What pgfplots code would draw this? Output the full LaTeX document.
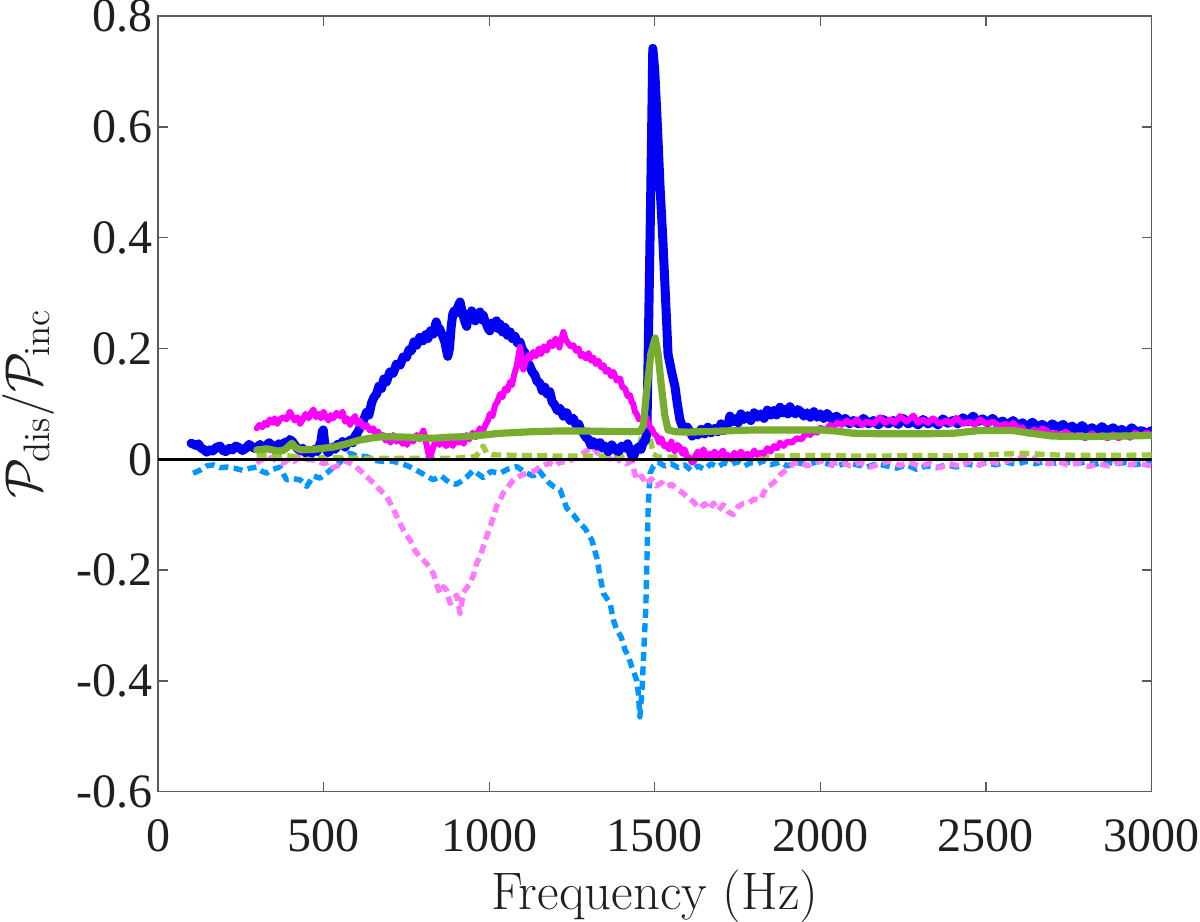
\documentclass[border=0pt]{standalone}
\usepackage{fontspec}
\newfontfamily\timesfont{Liberation Serif}
\usepackage{pgfplots}
\pgfplotsset{compat=1.18}
\definecolor{cblue}{RGB}{0,0,245}
\definecolor{cmag}{RGB}{255,0,255}
\definecolor{cgreen}{RGB}{119,172,48}
\definecolor{clblue}{RGB}{0,150,255}
\definecolor{cpink}{RGB}{255,120,255}
\definecolor{clgreen}{RGB}{160,200,60}
\definecolor{axgray}{RGB}{90,90,90}
\begin{document}
\begin{tikzpicture}
\begin{axis}[
  scale only axis, width=331.2pt, height=258.5pt,
  xmin=0, xmax=3000, ymin=-0.6, ymax=0.8,
  axis line style={axgray, line width=0.45pt},
  every tick/.style={axgray, line width=0.45pt},
  tick align=inside, tick pos=both, major tick length=3.3pt,
  xtick={0,500,1000,1500,2000,2500,3000},
  xticklabels={0,500,1000,1500,2000,2500,3000},
  ytick={-0.6,-0.4,-0.2,0,0.2,0.4,0.6,0.8},
  yticklabels={-0.6,-0.4,-0.2,0,0.2,0.4,0.6,0.8},
  ticklabel style={font=\timesfont\fontsize{16}{18}\selectfont, text=black!88},
  xticklabel style={anchor=base, yshift=-20pt, inner sep=0pt},
  yticklabel style={anchor=east, xshift=-1.8pt, inner sep=0pt},
  xlabel={Frequency (Hz)},
  ylabel={$\mathcal{P}_{\rm dis}/\mathcal{P}_{\rm inc}$},
  label style={font=\fontsize{17.6}{20}\selectfont, text=black!88},
  xlabel style={at={(axis description cs:0.5,0)}, anchor=base, yshift=-39.4pt, inner sep=0pt},
  ylabel style={at={(axis description cs:0,0.5)}, anchor=center, yshift=43pt, inner sep=0pt},
  every axis plot/.append style={line join=round, line cap=round, mark=none},
]
% light blue dashed
\addplot[clblue, line width=1.8pt, dash pattern=on 3pt off 1.8pt, line cap=butt] coordinates {
(106,-0.025)(126,-0.020)(147,-0.012)(167,-0.010)(187,-0.015)(207,-0.014)(230,-0.016)(257,-0.020)(278,-0.016)(298,-0.014)
(315,-0.022)(328,-0.025)(348,-0.018)(368,-0.014)(388,-0.037)(409,-0.035)(429,-0.037)(449,-0.049)(469,-0.030)(489,-0.034)
(509,-0.025)(529,-0.015)(550,-0.005)(565,0.005)(580,0.011)(600,0.006)(630,0.005)(655,-0.002)(680,-0.004)(705,-0.003)
(731,-0.007)(755,-0.012)(781,-0.020)(805,-0.028)(831,-0.037)(855,-0.030)(882,-0.043)(900,-0.045)(912,-0.041)(932,-0.032)
(952,-0.020)(970,-0.028)(982,-0.033)(1005,-0.022)(1033,-0.025)(1055,-0.018)(1083,-0.013)(1100,-0.020)(1113,-0.025)(1133,-0.030)
(1150,-0.020)(1163,-0.030)(1180,-0.042)(1194,-0.049)(1214,-0.055)(1234,-0.088)(1254,-0.100)(1274,-0.116)(1290,-0.125)(1310,-0.146)
(1325,-0.178)(1335,-0.212)(1345,-0.242)(1365,-0.260)(1375,-0.290)(1385,-0.308)(1398,-0.320)(1410,-0.344)(1420,-0.355)(1430,-0.374)
(1445,-0.398)(1450,-0.420)(1455,-0.465)(1462,-0.410)(1468,-0.330)(1473,-0.266)(1480,-0.086)(1486,-0.025)(1496,-0.012)(1510,-0.005)
(1530,-0.012)(1550,-0.008)(1570,-0.015)(1590,-0.010)(1610,-0.020)(1630,-0.012)(1650,-0.018)(1670,-0.008)(1690,-0.014)(1710,-0.006)
(1730,-0.010)(1750,-0.004)(1770,-0.012)(1790,-0.006)(1810,-0.008)(1830,-0.002)(1850,-0.010)(1878,-0.005)(1900,-0.012)(1930,-0.006)
(1960,-0.010)(1990,-0.004)(2020,-0.008)(2050,-0.012)(2080,-0.006)(2110,-0.010)(2140,-0.014)(2170,-0.008)(2200,-0.012)(2230,-0.016)
(2260,-0.010)(2290,-0.018)(2320,-0.012)(2350,-0.015)(2380,-0.010)(2410,-0.014)(2440,-0.008)(2470,-0.012)(2500,-0.006)(2530,-0.010)
(2560,-0.005)(2590,-0.009)(2620,-0.004)(2650,-0.008)(2680,-0.003)(2710,-0.007)(2740,-0.004)(2770,-0.008)(2800,-0.005)(2830,-0.009)
(2860,-0.004)(2890,-0.008)(2920,-0.006)(2950,-0.010)(2980,-0.006)(3000,-0.008)
};
% pink dashed
\addplot[cpink, line width=1.8pt, dash pattern=on 3pt off 1.8pt, line cap=butt] coordinates {
(298,-0.007)(313,0.000)(328,-0.002)(345,0.004)(360,-0.005)(378,-0.007)(395,0.000)(410,-0.004)(429,0.005)(450,0.000)
(479,-0.002)(500,-0.008)(515,-0.005)(529,-0.015)(550,-0.010)(565,-0.003)(580,-0.007)(595,-0.012)(610,-0.020)(625,-0.028)
(640,-0.037)(655,-0.045)(670,-0.055)(690,-0.067)(711,-0.090)(726,-0.110)(741,-0.128)(761,-0.146)(776,-0.165)(791,-0.176)
(811,-0.188)(831,-0.206)(841,-0.225)(851,-0.242)(862,-0.230)(871,-0.236)(882,-0.260)(892,-0.254)(902,-0.245)(912,-0.278)
(922,-0.240)(932,-0.232)(942,-0.224)(952,-0.210)(962,-0.188)(972,-0.175)(982,-0.158)(992,-0.140)(1002,-0.123)(1012,-0.105)
(1022,-0.085)(1032,-0.075)(1042,-0.061)(1057,-0.050)(1073,-0.037)(1093,-0.030)(1113,-0.025)(1133,-0.022)(1150,-0.015)(1168,-0.010)
(1184,-0.007)(1200,-0.012)(1215,-0.004)(1234,-0.007)(1250,0.000)(1268,0.005)(1284,0.011)(1300,0.018)(1314,0.023)(1325,0.012)
(1340,0.008)(1355,0.003)(1370,0.000)(1385,-0.005)(1400,0.004)(1415,-0.008)(1430,-0.003)(1445,-0.037)(1460,-0.030)(1475,-0.045)
(1490,-0.035)(1505,-0.048)(1520,-0.042)(1535,-0.050)(1550,-0.045)(1570,-0.055)(1586,-0.061)(1600,-0.070)(1616,-0.076)(1628,-0.085)
(1637,-0.088)(1650,-0.080)(1665,-0.090)(1677,-0.079)(1692,-0.092)(1707,-0.082)(1722,-0.095)(1737,-0.100)(1752,-0.085)(1767,-0.080)
(1785,-0.078)(1800,-0.072)(1818,-0.073)(1838,-0.050)(1853,-0.045)(1868,-0.037)(1883,-0.025)(1898,-0.019)(1918,-0.008)(1940,-0.004)
(1960,-0.012)(1980,-0.006)(2000,-0.002)(2030,-0.010)(2060,-0.004)(2090,-0.012)(2120,-0.006)(2150,-0.014)(2180,-0.008)(2210,-0.003)
(2240,-0.011)(2270,-0.005)(2300,-0.013)(2330,-0.007)(2360,-0.015)(2390,-0.008)(2420,-0.012)(2450,-0.004)(2480,-0.010)(2510,-0.003)
(2540,-0.008)(2570,-0.002)(2600,0.002)(2633,0.005)(2660,-0.003)(2690,-0.008)(2720,-0.004)(2750,-0.011)(2780,-0.006)(2810,-0.013)
(2840,-0.008)(2870,-0.012)(2900,-0.005)(2930,-0.010)(2960,-0.007)(3000,-0.012)
};
% light green dashed
\addplot[clgreen, line width=1.8pt, dash pattern=on 3.3pt off 1.8pt, line cap=butt] coordinates {
(298,0.008)(350,0.007)(400,0.006)(429,0.004)(500,0.003)(600,0.002)(700,0.002)(800,0.002)(900,0.002)(960,0.005)
(975,0.018)(982,0.024)(992,0.012)(1010,0.008)(1100,0.007)(1200,0.006)(1300,0.006)(1400,0.006)(1440,0.008)(1455,0.030)
(1470,0.060)(1478,0.070)(1486,0.040)(1495,0.010)(1510,0.004)(1600,0.004)(1700,0.005)(1800,0.005)(1900,0.006)(2000,0.007)
(2100,0.006)(2200,0.006)(2300,0.007)(2400,0.006)(2500,0.008)(2612,0.011)(2700,0.008)(2800,0.007)(2900,0.007)(3000,0.008)
};
% blue solid
\addplot[cblue, line width=3pt] coordinates {
(100,0.029)(108,0.027)(115,0.025)(122,0.028)(130,0.020)(138,0.018)(147,0.013)(156,0.017)(165,0.015)(175,0.021)
(187,0.024)(196,0.016)(205,0.014)(215,0.020)(225,0.017)(235,0.024)(245,0.021)(255,0.016)(265,0.020)(275,0.027)
(285,0.022)(296,0.019)(308,0.027)(316,0.020)(325,0.023)(335,0.030)(345,0.025)(355,0.021)(365,0.028)(374,0.024)
(383,0.031)(390,0.026)(398,0.036)(406,0.032)(415,0.024)(422,0.019)(429,0.016)(437,0.020)(445,0.012)(455,0.016)
(465,0.011)(472,0.018)(480,0.014)(487,0.024)(492,0.032)(496,0.050)(499,0.053)(503,0.030)(508,0.018)(514,0.012)
(520,0.016)(527,0.022)(535,0.018)(542,0.027)(550,0.025)(557,0.032)(565,0.022)(572,0.030)(580,0.035)(588,0.030)
(595,0.042)(602,0.048)(610,0.057)(620,0.070)(630,0.085)(637,0.080)(645,0.102)(652,0.112)(660,0.118)(667,0.132)
(675,0.128)(682,0.145)(690,0.140)(700,0.158)(710,0.155)(720,0.172)(731,0.170)(740,0.185)(750,0.184)(758,0.198)
(765,0.196)(773,0.212)(781,0.206)(790,0.220)(800,0.214)(808,0.225)(815,0.218)(823,0.232)(831,0.226)(840,0.248)
(845,0.238)(850,0.236)(855,0.228)(860,0.222)(866,0.212)(870,0.200)(875,0.186)(880,0.200)(885,0.238)(890,0.262)
(895,0.268)(900,0.264)(906,0.276)(912,0.284)(917,0.270)(922,0.258)(927,0.248)(932,0.240)(937,0.262)(942,0.256)
(947,0.268)(952,0.260)(958,0.250)(965,0.258)(972,0.266)(977,0.252)(982,0.260)(987,0.250)(992,0.244)(997,0.236)
(1002,0.232)(1008,0.246)(1015,0.240)(1022,0.250)(1027,0.236)(1033,0.244)(1040,0.230)(1048,0.238)(1055,0.224)(1063,0.230)
(1070,0.218)(1078,0.222)(1085,0.210)(1093,0.212)(1100,0.198)(1108,0.192)(1115,0.176)(1123,0.168)(1130,0.158)(1138,0.152)
(1145,0.140)(1153,0.138)(1160,0.124)(1168,0.130)(1175,0.118)(1183,0.122)(1190,0.104)(1198,0.098)(1206,0.088)(1214,0.092)
(1224,0.078)(1234,0.084)(1244,0.070)(1254,0.074)(1262,0.062)(1270,0.064)(1277,0.052)(1284,0.048)(1292,0.040)(1300,0.036)
(1307,0.026)(1315,0.032)(1325,0.024)(1335,0.030)(1342,0.020)(1350,0.024)(1360,0.014)(1370,0.026)(1380,0.018)(1390,0.014)
(1400,0.024)(1410,0.020)(1418,0.028)(1425,0.016)(1430,0.008)(1435,0.004)(1442,0.016)(1450,0.022)(1458,0.018)(1465,0.030)
(1471,0.034)(1476,0.047)(1480,0.190)(1487,0.450)(1494,0.742)(1500,0.700)(1508,0.600)(1516,0.490)(1524,0.400)(1531,0.310)
(1540,0.190)(1550,0.160)(1561,0.131)(1568,0.100)(1576,0.071)(1583,0.060)(1590,0.052)(1598,0.058)(1606,0.050)(1613,0.042)
(1620,0.048)(1630,0.044)(1640,0.054)(1650,0.046)(1660,0.058)(1670,0.048)(1680,0.056)(1690,0.050)(1700,0.064)(1707,0.052)
(1715,0.058)(1722,0.066)(1727,0.078)(1735,0.068)(1745,0.074)(1752,0.066)(1760,0.082)(1770,0.072)(1780,0.079)(1790,0.070)
(1800,0.084)(1810,0.076)(1820,0.082)(1830,0.074)(1840,0.089)(1850,0.080)(1860,0.088)(1868,0.080)(1878,0.094)(1887,0.084)
(1895,0.090)(1902,0.082)(1908,0.095)(1916,0.086)(1925,0.082)(1932,0.090)(1940,0.086)(1950,0.078)(1960,0.084)(1970,0.076)
(1980,0.086)(1990,0.076)(2000,0.082)(2010,0.074)(2020,0.083)(2035,0.072)(2049,0.078)(2062,0.068)(2075,0.074)(2088,0.064)
(2100,0.070)(2115,0.064)(2130,0.074)(2145,0.064)(2160,0.070)(2175,0.062)(2190,0.072)(2205,0.064)(2220,0.070)(2235,0.063)
(2250,0.074)(2265,0.064)(2280,0.069)(2295,0.062)(2310,0.072)(2325,0.064)(2340,0.070)(2355,0.062)(2370,0.073)(2385,0.065)
(2400,0.070)(2415,0.064)(2430,0.075)(2445,0.068)(2461,0.078)(2475,0.068)(2490,0.073)(2505,0.066)(2520,0.074)(2535,0.064)
(2550,0.069)(2565,0.062)(2582,0.070)(2596,0.060)(2610,0.066)(2625,0.058)(2640,0.067)(2655,0.058)(2670,0.063)(2685,0.056)
(2700,0.064)(2716,0.057)(2733,0.063)(2746,0.054)(2760,0.060)(2775,0.052)(2790,0.061)(2805,0.052)(2820,0.057)(2835,0.050)
(2850,0.059)(2867,0.051)(2884,0.057)(2897,0.049)(2910,0.054)(2925,0.047)(2940,0.057)(2955,0.049)(2970,0.052)(2985,0.046)
(3000,0.052)
};
% magenta solid
\addplot[cmag, line width=2pt] coordinates {
(298,0.056)(306,0.062)(315,0.058)(322,0.066)(330,0.062)(337,0.072)(345,0.066)(352,0.074)(360,0.064)(368,0.072)
(378,0.076)(388,0.072)(398,0.086)(405,0.078)(413,0.070)(421,0.076)(429,0.064)(437,0.072)(445,0.082)(455,0.074)
(462,0.084)(469,0.090)(477,0.076)(485,0.082)(492,0.074)(500,0.086)(507,0.076)(515,0.070)(522,0.080)(529,0.074)
(539,0.084)(549,0.078)(557,0.086)(565,0.068)(572,0.074)(580,0.062)(587,0.072)(595,0.078)(602,0.064)(610,0.070)
(620,0.058)(630,0.062)(640,0.052)(650,0.056)(657,0.046)(665,0.050)(672,0.040)(680,0.044)(687,0.034)(695,0.038)
(702,0.030)(710,0.044)(720,0.032)(731,0.038)(738,0.028)(745,0.034)(752,0.026)(760,0.040)(770,0.032)(781,0.044)
(790,0.036)(801,0.052)(806,0.040)(811,0.026)(816,0.012)(821,0.002)(826,0.012)(831,0.022)(836,0.030)(841,0.036)
(850,0.026)(860,0.034)(870,0.024)(882,0.032)(890,0.024)(900,0.040)(907,0.030)(915,0.036)(923,0.028)(932,0.044)
(940,0.036)(950,0.048)(960,0.040)(972,0.056)(980,0.050)(990,0.064)(996,0.070)(1002,0.082)(1010,0.078)(1018,0.098)
(1025,0.104)(1033,0.118)(1040,0.112)(1048,0.128)(1055,0.124)(1063,0.140)(1069,0.134)(1075,0.152)(1083,0.168)(1088,0.185)
(1093,0.203)(1098,0.180)(1103,0.162)(1110,0.176)(1118,0.188)(1125,0.182)(1133,0.194)(1141,0.186)(1150,0.200)(1157,0.190)
(1165,0.204)(1174,0.196)(1184,0.212)(1192,0.204)(1200,0.218)(1206,0.210)(1212,0.202)(1218,0.218)(1224,0.230)(1231,0.216)
(1238,0.210)(1246,0.204)(1254,0.206)(1262,0.196)(1270,0.200)(1277,0.186)(1284,0.190)(1292,0.182)(1300,0.192)(1307,0.178)
(1314,0.184)(1322,0.172)(1330,0.178)(1338,0.166)(1345,0.170)(1352,0.158)(1360,0.162)(1368,0.150)(1375,0.158)(1385,0.142)
(1395,0.146)(1402,0.130)(1410,0.128)(1418,0.114)(1425,0.116)(1430,0.104)(1435,0.100)(1440,0.086)(1445,0.082)(1452,0.072)
(1460,0.074)(1468,0.068)(1475,0.076)(1482,0.060)(1490,0.056)(1498,0.046)(1506,0.042)(1513,0.030)(1520,0.038)(1528,0.024)
(1536,0.026)(1543,0.018)(1550,0.032)(1555,0.022)(1560,0.014)(1568,0.026)(1576,0.022)(1583,0.010)(1590,0.018)(1598,0.004)
(1606,0.002)(1612,-0.006)(1618,-0.004)(1624,0.008)(1630,0.014)(1638,0.006)(1647,0.018)(1655,0.006)(1665,0.010)(1672,0.002)
(1680,0.014)(1692,0.006)(1706,0.016)(1713,0.004)(1720,0.008)(1730,0.000)(1740,0.012)(1750,0.004)(1760,0.014)(1770,0.006)
(1780,0.010)(1790,0.004)(1800,0.016)(1809,0.008)(1818,0.012)(1829,0.010)(1840,0.020)(1850,0.014)(1860,0.024)(1869,0.020)
(1878,0.030)(1889,0.024)(1900,0.032)(1914,0.030)(1928,0.038)(1943,0.036)(1958,0.048)(1969,0.044)(1980,0.052)(1990,0.048)
(2000,0.057)(2015,0.052)(2029,0.062)(2040,0.058)(2050,0.066)(2065,0.062)(2079,0.070)(2095,0.064)(2110,0.072)(2125,0.062)
(2140,0.068)(2160,0.064)(2180,0.076)(2195,0.066)(2210,0.072)(2225,0.066)(2240,0.078)(2260,0.068)(2281,0.079)(2295,0.066)
(2310,0.072)(2325,0.066)(2340,0.074)(2360,0.064)(2381,0.070)(2395,0.064)(2410,0.075)(2430,0.064)(2450,0.068)(2466,0.062)
(2482,0.072)(2500,0.064)(2520,0.068)(2540,0.060)(2560,0.064)(2570,0.058)(2582,0.066)(2596,0.056)(2610,0.058)(2620,0.048)
(2632,0.046)(2645,0.054)(2660,0.048)(2670,0.056)(2683,0.052)(2696,0.044)(2710,0.048)(2725,0.042)(2740,0.050)(2760,0.042)
(2783,0.044)(2800,0.038)(2820,0.047)(2835,0.040)(2850,0.044)(2867,0.038)(2884,0.045)(2900,0.038)(2920,0.044)(2935,0.039)
(2950,0.048)(2968,0.042)(2985,0.048)(3000,0.044)
};
% green solid
\addplot[cgreen, line width=2.4pt] coordinates {
(298,0.017)(330,0.019)(360,0.015)(378,0.016)(392,0.022)(404,0.029)(415,0.022)(429,0.017)(470,0.018)(529,0.022)
(570,0.028)(610,0.035)(650,0.039)(680,0.041)(750,0.040)(831,0.038)(880,0.040)(932,0.041)(1000,0.045)(1033,0.047)
(1100,0.049)(1133,0.050)(1200,0.051)(1300,0.051)(1400,0.050)(1455,0.050)(1465,0.060)(1475,0.120)(1488,0.190)(1501,0.219)
(1510,0.190)(1520,0.131)(1530,0.080)(1540,0.053)(1560,0.050)(1600,0.049)(1700,0.051)(1800,0.053)(1900,0.053)(2000,0.053)
(2049,0.051)(2100,0.047)(2200,0.046)(2300,0.046)(2400,0.047)(2480,0.052)(2580,0.052)(2650,0.046)(2700,0.042)(2800,0.041)
(2900,0.042)(3000,0.043)
};
% zero line
\addplot[black, line width=0.8pt] coordinates {(0,0)(3000,0)};
\end{axis}
\pgfresetboundingbox
\path[use as bounding box] (-52.67pt,-43.43pt) rectangle (347.33pt,263.9pt);
\end{tikzpicture}
\end{document}
